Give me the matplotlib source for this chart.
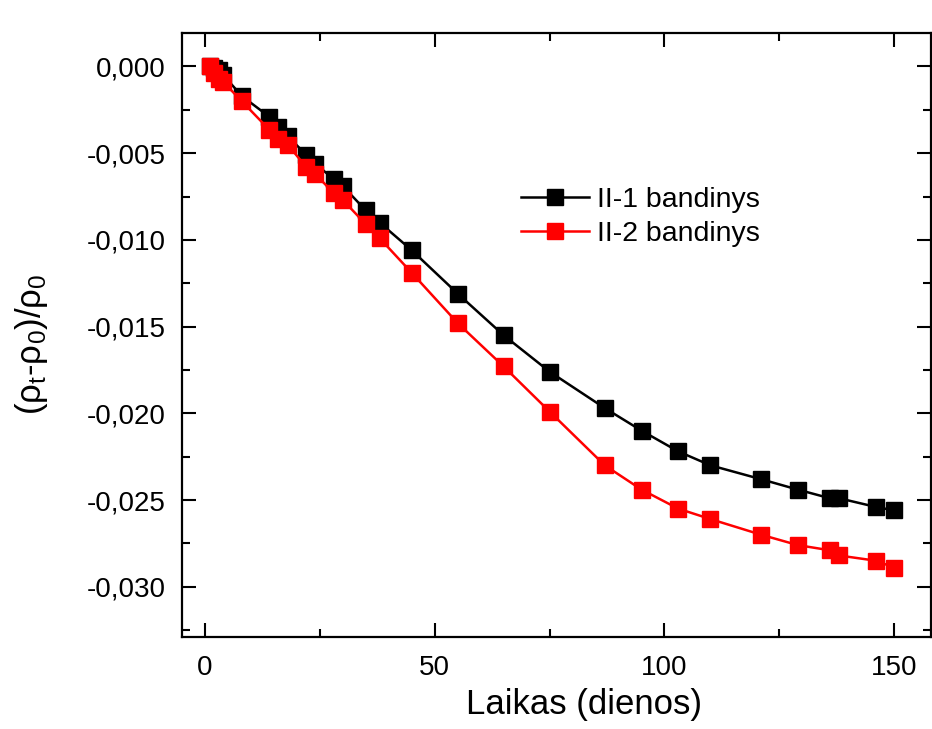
import matplotlib
matplotlib.use("Agg")
import matplotlib.pyplot as plt
from matplotlib.ticker import MultipleLocator, FuncFormatter

plt.rcParams['font.family'] = ['Liberation Sans', 'DejaVu Sans']
plt.rcParams['mathtext.fontset'] = 'custom'
plt.rcParams['mathtext.rm'] = 'Liberation Sans'
plt.rcParams['mathtext.it'] = 'Liberation Sans:italic'

days = [1, 2, 3, 4, 8, 14, 16, 18, 22, 24, 28, 30, 35, 38, 45, 55, 65, 75,
        87, 95, 103, 110, 121, 129, 136, 138, 146, 150]
s1 = [0.0, -0.0001, -0.0002, -0.0005, -0.0017, -0.0029, -0.0035, -0.0040,
      -0.0051, -0.0056, -0.0065, -0.0069, -0.0083, -0.0090, -0.0106, -0.0131,
      -0.0155, -0.0176, -0.0197, -0.0210, -0.0222, -0.0230, -0.0238, -0.0244,
      -0.0249, -0.0249, -0.0254, -0.0256]
s2 = [0.0, -0.0004, -0.0007, -0.0009, -0.0020, -0.00365, -0.0042, -0.0045,
      -0.0058, -0.0062, -0.0073, -0.0077, -0.0091, -0.0099, -0.0119, -0.0148,
      -0.0173, -0.0199, -0.0230, -0.0244, -0.0255, -0.0261, -0.0270, -0.0276,
      -0.0279, -0.0282, -0.0285, -0.0289]
labels = ["II-1 bandinys", "II-2 bandinys"]

fig = plt.figure(figsize=(9.32, 7.29), dpi=100)
ax = fig.add_axes([182/932, 1-637/729, (931-182)/932, (637-33)/729])

ax.plot(days, s1, '-s', color='black', lw=1.8, ms=11, label=labels[0])
ax.plot(days, s2, '-s', color='red', lw=1.8, ms=11, label=labels[1])

ax.set_xlim(-5, 158)
ax.set_ylim(-0.0329, 0.00193)

ax.xaxis.set_major_locator(MultipleLocator(50))
ax.xaxis.set_minor_locator(MultipleLocator(25))
ax.yaxis.set_major_locator(MultipleLocator(0.005))
ax.yaxis.set_minor_locator(MultipleLocator(0.0025))

def yfmt(v, pos):
    s = "%.3f" % v
    if s == "-0.000":
        s = "0.000"
    return s.replace('.', ',')

ax.yaxis.set_major_formatter(FuncFormatter(yfmt))
ax.xaxis.set_major_formatter(FuncFormatter(lambda v, p: "%d" % v))

ax.tick_params(which='both', direction='in', top=True, right=True, width=1.5)
ax.tick_params(which='major', length=10, labelsize=20)
ax.tick_params(axis='y', which='major', pad=12)
ax.tick_params(axis='x', which='major', pad=13)
ax.tick_params(which='minor', length=5.5)
for sp in ax.spines.values():
    sp.set_linewidth(1.6)

ax.set_xlabel("Laikas (dienos)", fontsize=25)
ax.xaxis.set_label_coords(0.537, -0.084)
ax.set_ylabel(r"(ρ$_\mathregular{t}$-ρ$_\mathregular{0}$)/ρ$_\mathregular{0}$", fontsize=25)
ax.yaxis.set_label_coords(-0.176, 0.485)

leg = ax.legend(loc='upper left', bbox_to_anchor=(0.452, 0.745), frameon=False,
                fontsize=20.5, handlelength=2.42, handletextpad=0.28,
                labelspacing=0.28, borderpad=0, borderaxespad=0)

fig.savefig("out.png", dpi=100, facecolor='white')
